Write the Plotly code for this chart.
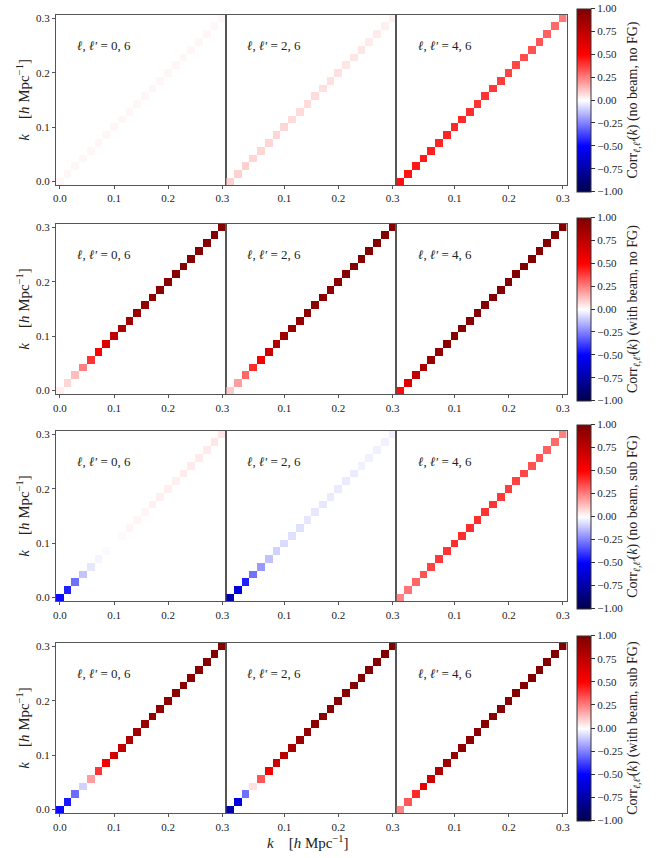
import plotly.graph_objects as go

# k-bin centres [h/Mpc]
k_bins = [0.0, 0.0143, 0.0286, 0.0429, 0.0571, 0.0714, 0.0857, 0.1, 0.1143, 0.1286, 0.1429,
          0.1571, 0.1714, 0.1857, 0.2, 0.2143, 0.2286, 0.2429, 0.2571, 0.2714, 0.2857, 0.3]

pair_labels = ["0, 6", "2, 6", "4, 6"]
row_labels = ["(no beam, no FG)", "(with beam, no FG)", "(no beam, sub FG)", "(with beam, sub FG)"]

# diagonal correlation coefficients Corr_{l,l'}(k) for each row / multipole pair
corr_nobeam_noFG_06 = [0.015, 0.015, 0.015, 0.015, 0.015, 0.015, 0.015, 0.015, 0.015, 0.015, 0.015,
                       0.015, 0.015, 0.015, 0.015, 0.015, 0.015, 0.015, 0.015, 0.015, 0.015, 0.015]
corr_nobeam_noFG_26 = [0.09, 0.09, 0.09, 0.08, 0.08, 0.08, 0.08, 0.08, 0.07, 0.07, 0.07,
                       0.07, 0.06, 0.06, 0.06, 0.05, 0.05, 0.05, 0.04, 0.04, 0.03, 0.03]
corr_nobeam_noFG_46 = [0.47, 0.46, 0.45, 0.45, 0.44, 0.43, 0.43, 0.42, 0.42, 0.41, 0.40,
                       0.40, 0.39, 0.38, 0.37, 0.36, 0.35, 0.34, 0.33, 0.31, 0.29, 0.26]

corr_beam_noFG_06 = [0.03, 0.08, 0.13, 0.25, 0.40, 0.50, 0.63, 0.75, 0.82, 0.87, 0.90,
                     0.92, 0.94, 0.95, 0.96, 0.97, 0.97, 0.98, 0.98, 0.98, 0.99, 0.99]
corr_beam_noFG_26 = [0.10, 0.19, 0.30, 0.41, 0.55, 0.70, 0.80, 0.87, 0.90, 0.92, 0.94,
                     0.95, 0.96, 0.97, 0.97, 0.98, 0.98, 0.98, 0.99, 0.99, 0.99, 0.99]
corr_beam_noFG_46 = [0.48, 0.63, 0.75, 0.85, 0.90, 0.93, 0.95, 0.96, 0.97, 0.97, 0.98,
                     0.98, 0.98, 0.99, 0.99, 0.99, 0.99, 0.99, 0.99, 0.99, 0.99, 0.99]

corr_nobeam_subFG_06 = [-0.48, -0.44, -0.28, -0.12, -0.05, -0.02, -0.01, 0.0, 0.01, 0.02, 0.02,
                        0.02, 0.03, 0.03, 0.03, 0.03, 0.04, 0.04, 0.04, 0.04, 0.05, 0.05]
corr_nobeam_subFG_26 = [-0.72, -0.59, -0.44, -0.28, -0.20, -0.12, -0.09, -0.07, -0.06, -0.06, -0.05,
                        -0.05, -0.05, -0.04, -0.04, -0.04, -0.04, -0.03, -0.03, -0.03, -0.03, -0.03]
corr_nobeam_subFG_46 = [0.24, 0.27, 0.30, 0.34, 0.37, 0.39, 0.40, 0.41, 0.41, 0.41, 0.41,
                        0.40, 0.40, 0.39, 0.38, 0.37, 0.36, 0.34, 0.33, 0.31, 0.29, 0.25]

corr_beam_subFG_06 = [-0.48, -0.45, -0.29, -0.09, 0.19, 0.40, 0.55, 0.67, 0.75, 0.82, 0.87,
                      0.90, 0.92, 0.94, 0.95, 0.96, 0.96, 0.97, 0.97, 0.98, 0.98, 0.98]
corr_beam_subFG_26 = [-0.74, -0.59, -0.28, 0.06, 0.33, 0.55, 0.70, 0.78, 0.85, 0.90, 0.92,
                      0.94, 0.95, 0.96, 0.97, 0.97, 0.98, 0.98, 0.98, 0.98, 0.99, 0.99]
corr_beam_subFG_46 = [0.24, 0.33, 0.42, 0.60, 0.70, 0.82, 0.88, 0.92, 0.94, 0.95, 0.96,
                      0.97, 0.97, 0.98, 0.98, 0.98, 0.98, 0.99, 0.99, 0.99, 0.99, 0.99]

rows_data = [
    [corr_nobeam_noFG_06, corr_nobeam_noFG_26, corr_nobeam_noFG_46],
    [corr_beam_noFG_06, corr_beam_noFG_26, corr_beam_noFG_46],
    [corr_nobeam_subFG_06, corr_nobeam_subFG_26, corr_nobeam_subFG_46],
    [corr_beam_subFG_06, corr_beam_subFG_26, corr_beam_subFG_46],
]

seismic = [[0.0, "rgb(0,0,77)"], [0.25, "rgb(0,0,255)"], [0.5, "rgb(255,255,255)"],
           [0.75, "rgb(255,0,0)"], [1.0, "rgb(128,0,0)"]]

W, H = 660, 858
FONT = "Liberation Serif"
TXT = "#222222"
FRAME = "#555555"


def fx(px):
    return px / W


def fy(py):
    return 1 - py / H


col_px = [(53.5, 225.3), (225.3, 397.1), (397.1, 569.0)]
row_px = [(12.7, 184.0), (222.7, 394.0), (430.7, 602.0), (643.7, 815.0)]
cbar_px = [(7, 190), (217, 400), (425, 609), (637, 822)]

dk = k_bins[1] - k_bins[0]
rng = [k_bins[0] - dk / 2, k_bins[-1] + dk / 2]

fig = go.Figure()
layout = dict(width=W, height=H, margin=dict(l=0, r=0, t=0, b=0),
              paper_bgcolor="white", plot_bgcolor="white",
              font=dict(family=FONT, color=TXT, size=11), showlegend=False)
annotations = []

n = 0
for r in range(4):
    ca = "coloraxis" if r == 0 else f"coloraxis{r+1}"
    cb0, cb1 = cbar_px[r]
    layout[ca] = dict(
        cmin=-1, cmax=1, colorscale=seismic,
        colorbar=dict(
            x=fx(579), xanchor="left", xpad=0, ypad=0,
            y=fy((cb0 + cb1) / 2), yanchor="middle",
            lenmode="pixels", len=cb1 - cb0, thickness=14,
            outlinewidth=1, outlinecolor="#333333",
            tickvals=[-1, -0.75, -0.5, -0.25, 0, 0.25, 0.5, 0.75, 1],
            ticktext=["\u22121.00", "\u22120.75", "\u22120.50", "\u22120.25", "0.00",
                      "0.25", "0.50", "0.75", "1.00"],
            ticks="outside", ticklen=4, tickcolor="#333333",
            tickfont=dict(family=FONT, size=11, color=TXT),
            title=dict(text="Corr<sub><i>\u2113,\u2113\u2032</i></sub>(<i>k</i>) " + row_labels[r],
                       side="right", font=dict(family=FONT, size=14, color=TXT)),
        ),
    )
    for c in range(3):
        n += 1
        vals = rows_data[r][c]
        z = [[(vals[i] if i == j else None) for j in range(len(k_bins))] for i in range(len(k_bins))]
        xa = "x" if n == 1 else f"x{n}"
        ya = "y" if n == 1 else f"y{n}"
        fig.add_trace(go.Heatmap(x=k_bins, y=k_bins, z=z, coloraxis=ca, xaxis=xa, yaxis=ya,
                                 hoverongaps=False))
        x0, x1 = col_px[c]
        y0, y1 = row_px[r]
        xt = [0.0, 0.1, 0.2, 0.3] if c == 0 else [0.1, 0.2, 0.3]
        layout[f"xaxis{n}"] = dict(
            domain=[fx(x0), fx(x1)], range=rng, anchor=ya,
            tickvals=xt, ticktext=[f"{v:.1f}" for v in xt],
            ticks="outside", ticklen=3, tickcolor=FRAME, tickwidth=1,
            showline=True, linecolor=FRAME, linewidth=1.3, mirror=True,
            showgrid=False, zeroline=False,
            tickfont=dict(family=FONT, size=11, color=TXT),
        )
        layout[f"yaxis{n}"] = dict(
            domain=[fy(y1), fy(y0)], range=rng, anchor=xa,
            tickvals=[0.0, 0.1, 0.2, 0.3] if c == 0 else [],
            ticktext=["0.0", "0.1", "0.2", "0.3"] if c == 0 else [],
            ticks="outside" if c == 0 else "", ticklen=3, tickcolor=FRAME, tickwidth=1,
            showline=True, linecolor=FRAME, linewidth=1.3, mirror=True,
            showgrid=False, zeroline=False,
            tickfont=dict(family=FONT, size=11, color=TXT),
        )
        annotations.append(dict(
            x=0.028, y=0.25, xref=xa, yref=ya, xanchor="left", yanchor="middle",
            text="<i>\u2113</i>, <i>\u2113\u2032</i> = " + pair_labels[c], showarrow=False,
            font=dict(family=FONT, size=13, color=TXT),
        ))
    # y axis label for row
    y0, y1 = row_px[r]
    annotations.append(dict(
        x=fx(20), y=fy((y0 + y1) / 2), xref="paper", yref="paper",
        xanchor="center", yanchor="middle", textangle=-90,
        text="<i>k</i>    [<i>h</i> Mpc<sup>\u22121</sup>]", showarrow=False,
        font=dict(family=FONT, size=15, color=TXT),
    ))

annotations.append(dict(
    x=fx(308), y=fy(844), xref="paper", yref="paper",
    xanchor="center", yanchor="middle",
    text="<i>k</i>    [<i>h</i> Mpc<sup>\u22121</sup>]", showarrow=False,
    font=dict(family=FONT, size=15, color=TXT),
))

layout["annotations"] = annotations
fig.update_layout(**layout)
fig.write_html("out.html", config={"displayModeBar": False},
               post_script="document.body.style.margin='0px';")
